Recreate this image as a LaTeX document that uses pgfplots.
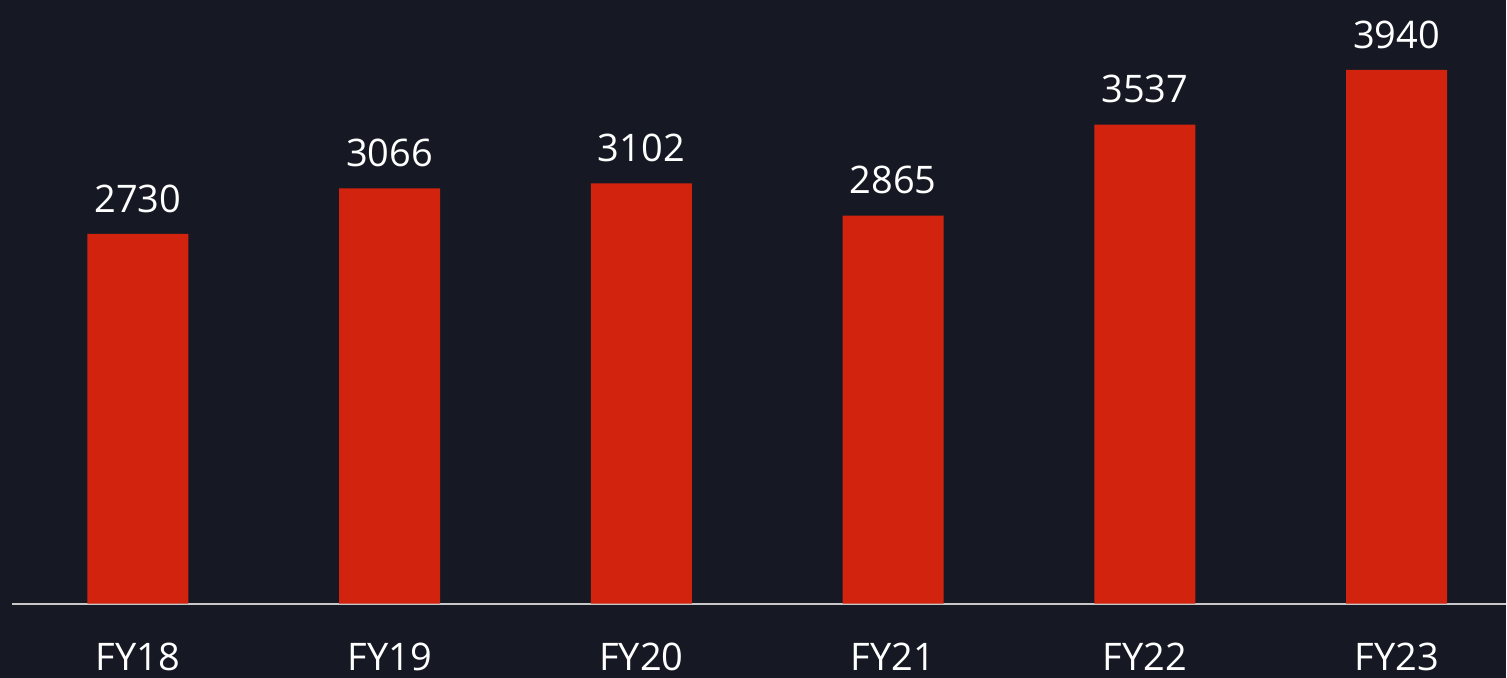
\documentclass[border=0pt]{standalone}
\usepackage{pgfplots}
\pgfplotsset{compat=1.18}
\usepackage{fontspec}
\setmainfont{Open Sans}
\definecolor{bg}{HTML}{161924}
\definecolor{barred}{HTML}{D2230E}
\definecolor{axisgray}{HTML}{C8C8C8}
\begin{document}
\begin{tikzpicture}[x=1pt,y=1pt]
\fill[bg] (0,0) rectangle (753.5,339);
\begin{axis}[
  at={(6pt,37pt)}, anchor=south west,
  scale only axis, width=747.5pt, height=302pt,
  xmin=-0.5, xmax=5.4345, ymin=0, ymax=4456.6,
  axis y line=none,
  axis x line*=bottom,
  x axis line style={axisgray, line width=1pt, -},
  xtick={0,1,2,3,4,5},
  xticklabels={FY18,FY19,FY20,FY21,FY22,FY23},
  major tick length=0pt,
  ytick=\empty,
  x tick label style={white, font=\fontsize{19}{22}\selectfont, anchor=north, inner sep=0pt, yshift=-19.5pt},
  ybar, bar width=50.5pt,
  clip=false,
  nodes near coords,
  /pgf/number format/assume math mode=true,
  /pgf/number format/1000 sep={},
  nodes near coords style={white, font=\fontsize{19}{22}\selectfont, anchor=south, inner sep=0pt, yshift=10.5pt},
]
\addplot[fill=barred, draw=none] coordinates {(0,2730) (1,3066) (2,3102) (3,2865) (4,3537) (5,3940)};
\end{axis}
\end{tikzpicture}
\end{document}
